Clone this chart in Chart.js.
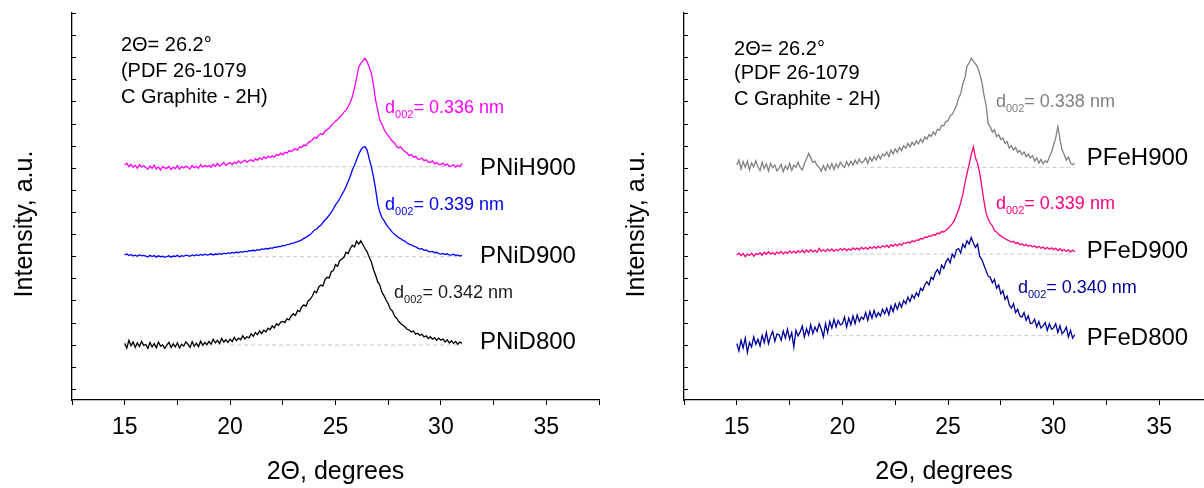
<!DOCTYPE html>
<html>
<head>
<meta charset="utf-8">
<script src="https://cdn.jsdelivr.net/npm/chart.js@4.4.0/dist/chart.umd.min.js"></script>
<style>
    html, body { margin: 0; padding: 0; background: #fff; }
    body { width: 1204px; height: 488px; position: relative; overflow: hidden; }
    .painel { position: absolute; top: 0; height: 488px; }
    #painelNi { left: 0; width: 608px; }
    #painelFe { left: 612px; width: 592px; }
</style>
</head>
<body>
<div class="painel" id="painelNi"><canvas id="graficoNi"></canvas></div>
<div class="painel" id="painelFe"><canvas id="graficoFe"></canvas></div>
<script>
// scan: 2Theta from 15 to 31 degrees, one reading every 0.1 degree
const angleStart = 15;
const angleStep = 0.1;

const pnih900 = [
    10.13, 10.21, 10.05, 10.16, 10.02, 10.11, 9.98, 10.14, 10.03, 10.09,
    10.02, 9.93, 10.08, 9.97, 10.12, 9.95, 10.04, 9.90, 10.06, 9.99,
    9.98, 10.07, 9.92, 10.03, 9.96, 10.10, 9.94, 10.05, 9.99, 10.08,
    10.02, 9.95, 10.11, 10.00, 10.07, 9.98, 10.14, 10.03, 10.10, 10.05,
    10.10, 10.02, 10.16, 10.07, 10.19, 10.08, 10.15, 10.24, 10.10, 10.20,
    10.23, 10.15, 10.26, 10.19, 10.31, 10.22, 10.28, 10.35, 10.25, 10.33,
    10.36, 10.29, 10.41, 10.34, 10.45, 10.38, 10.49, 10.42, 10.53, 10.47,
    10.54, 10.48, 10.60, 10.56, 10.66, 10.59, 10.70, 10.66, 10.78, 10.74,
    10.81, 10.86, 10.80, 10.95, 10.92, 11.03, 11.00, 11.14, 11.18, 11.26,
    11.38, 11.33, 11.47, 11.54, 11.50, 11.66, 11.72, 11.80, 11.92, 12.01,
    12.10, 12.18, 12.30, 12.38, 12.52, 12.60, 12.77, 12.95, 13.22, 13.60,
    14.05, 14.55, 14.72, 14.85, 14.95, 14.80, 14.55, 14.28, 13.75, 13.07,
    12.62, 12.16, 11.98, 11.75, 11.58, 11.45, 11.32, 11.20, 11.12, 10.96,
    10.90, 10.95, 10.80, 10.74, 10.66, 10.55, 10.60, 10.48, 10.52, 10.40,
    10.38, 10.44, 10.32, 10.36, 10.26, 10.25, 10.31, 10.18, 10.24, 10.15,
    10.15, 10.21, 10.10, 10.17, 10.06, 10.09, 10.14, 10.03, 10.11, 10.05,
    10.20
];
const pnid900 = [
    6.06, 6.10, 6.03, 6.08, 6.01, 6.05, 6.00, 6.07, 6.02, 6.04,
    6.01, 5.97, 6.04, 5.99, 6.03, 5.96, 6.02, 5.98, 6.00, 5.95,
    5.98, 6.02, 5.96, 6.01, 5.99, 6.04, 5.97, 6.03, 6.00, 6.05,
    6.03, 6.00, 6.06, 6.02, 6.07, 6.03, 6.08, 6.04, 6.09, 6.05,
    6.07, 6.11, 6.06, 6.10, 6.08, 6.13, 6.09, 6.14, 6.11, 6.15,
    6.13, 6.17, 6.14, 6.19, 6.16, 6.21, 6.18, 6.23, 6.20, 6.25,
    6.24, 6.27, 6.25, 6.30, 6.28, 6.33, 6.31, 6.35, 6.33, 6.38,
    6.36, 6.41, 6.40, 6.45, 6.44, 6.49, 6.48, 6.53, 6.54, 6.58,
    6.59, 6.63, 6.66, 6.70, 6.74, 6.81, 6.85, 6.92, 6.98, 7.08,
    7.19, 7.22, 7.33, 7.40, 7.52, 7.64, 7.73, 7.86, 7.98, 8.15,
    8.32, 8.45, 8.60, 8.78, 8.95, 9.15, 9.38, 9.62, 9.90, 10.12,
    10.36, 10.60, 10.81, 10.92, 10.96, 10.80, 10.40, 10.05, 9.60, 9.05,
    8.40, 8.00, 7.75, 7.62, 7.45, 7.32, 7.20, 7.08, 7.00, 6.92,
    6.84, 6.79, 6.72, 6.68, 6.60, 6.54, 6.52, 6.46, 6.43, 6.37,
    6.32, 6.34, 6.27, 6.29, 6.22, 6.20, 6.22, 6.16, 6.18, 6.12,
    6.10, 6.13, 6.08, 6.11, 6.05, 6.06, 6.09, 6.03, 6.06, 6.01,
    6.04
];
const pnid800 = [
    2.06, 1.85, 2.20, 1.95, 2.12, 1.88, 2.08, 1.92, 2.15, 1.97,
    2.01, 1.83, 2.10, 1.90, 2.05, 1.86, 2.12, 1.94, 1.99, 1.84,
    1.98, 2.11, 1.87, 2.04, 1.90, 2.09, 1.85, 2.02, 1.94, 2.13,
    2.02, 1.88, 2.14, 1.93, 2.07, 1.91, 2.16, 1.97, 2.10, 2.00,
    2.15, 2.02, 2.25, 2.08, 2.20, 2.05, 2.28, 2.12, 2.22, 2.10,
    2.25, 2.14, 2.33, 2.18, 2.30, 2.22, 2.40, 2.26, 2.36, 2.31,
    2.50, 2.38, 2.55, 2.45, 2.62, 2.50, 2.66, 2.58, 2.75, 2.68,
    2.85, 2.76, 2.95, 2.88, 3.02, 3.05, 3.00, 3.18, 3.12, 3.30,
    3.40, 3.32, 3.55, 3.50, 3.72, 3.80, 3.74, 3.98, 4.05, 4.20,
    4.42, 4.35, 4.60, 4.70, 4.65, 4.95, 5.05, 5.02, 5.30, 5.35,
    5.62, 5.55, 5.80, 5.88, 5.95, 6.18, 6.12, 6.35, 6.50, 6.42,
    6.68, 6.55, 6.70, 6.52, 6.35, 6.20, 5.95, 5.75, 5.40, 5.15,
    4.85, 4.70, 4.38, 4.22, 4.02, 3.85, 3.62, 3.52, 3.30, 3.20,
    3.05, 2.95, 2.88, 2.80, 2.70, 2.66, 2.58, 2.62, 2.48, 2.52,
    2.42, 2.48, 2.35, 2.40, 2.28, 2.36, 2.25, 2.32, 2.20, 2.30,
    2.20, 2.26, 2.12, 2.22, 2.08, 2.18, 2.05, 2.15, 2.02, 2.12,
    2.06
];

const pfeh900 = [
    10.13, 10.35, 9.95, 10.28, 10.02, 10.30, 9.90, 10.22, 10.05, 10.32,
    10.05, 9.88, 10.25, 9.97, 10.18, 9.85, 10.20, 10.00, 10.12, 9.86,
    9.98, 10.15, 9.82, 10.08, 9.92, 10.20, 9.88, 10.12, 10.02, 10.25,
    10.02, 9.90, 10.18, 10.40, 10.65, 10.45, 10.25, 10.30, 10.10, 10.02,
    9.85, 10.10, 9.88, 10.15, 9.95, 10.20, 9.92, 10.18, 10.00, 10.25,
    10.10, 10.02, 10.28, 10.08, 10.30, 10.12, 10.35, 10.18, 10.40, 10.22,
    10.28, 10.45, 10.20, 10.48, 10.30, 10.52, 10.36, 10.58, 10.40, 10.62,
    10.54, 10.72, 10.50, 10.80, 10.62, 10.85, 10.70, 10.92, 10.78, 11.00,
    10.88, 11.10, 10.95, 11.15, 11.02, 11.22, 11.08, 11.30, 11.15, 11.40,
    11.30, 11.50, 11.42, 11.62, 11.50, 11.75, 11.70, 11.92, 11.90, 12.10,
    12.12, 12.35, 12.42, 12.60, 12.82, 13.15, 13.35, 13.80, 14.05, 14.60,
    14.75, 14.95, 14.82, 14.70, 14.55, 14.25, 13.90, 13.30, 12.85, 12.00,
    11.85, 11.62, 11.72, 11.41, 11.50, 11.28, 11.35, 11.10, 11.18, 10.89,
    11.00, 10.80, 10.92, 10.70, 10.78, 10.60, 10.72, 10.50, 10.62, 10.45,
    10.55, 10.30, 10.45, 10.21, 10.38, 10.18, 10.32, 10.24, 10.50, 10.70,
    11.05, 11.35, 11.86, 11.30, 10.81, 10.60, 10.35, 10.48, 10.22, 10.14,
    10.20
];
const pfed900 = [
    6.06, 6.15, 6.02, 6.12, 5.98, 6.10, 6.04, 6.14, 6.00, 6.11,
    6.08, 6.16, 6.05, 6.18, 6.09, 6.20, 6.10, 6.17, 6.08, 6.19,
    6.13, 6.22, 6.10, 6.20, 6.12, 6.24, 6.15, 6.23, 6.14, 6.25,
    6.18, 6.26, 6.16, 6.28, 6.19, 6.30, 6.20, 6.27, 6.18, 6.36,
    6.22, 6.30, 6.21, 6.32, 6.24, 6.33, 6.22, 6.30, 6.26, 6.35,
    6.28, 6.36, 6.25, 6.34, 6.27, 6.38, 6.30, 6.37, 6.29, 6.40,
    6.33, 6.40, 6.31, 6.42, 6.35, 6.44, 6.36, 6.45, 6.38, 6.47,
    6.42, 6.50, 6.40, 6.52, 6.45, 6.55, 6.47, 6.56, 6.50, 6.60,
    6.58, 6.64, 6.60, 6.70, 6.66, 6.74, 6.72, 6.80, 6.78, 6.86,
    6.86, 6.92, 6.90, 6.98, 6.95, 7.05, 7.02, 7.12, 7.10, 7.18,
    7.25, 7.35, 7.48, 7.62, 7.85, 8.10, 8.42, 8.80, 9.30, 9.75,
    10.15, 10.60, 10.95, 10.45, 10.20, 9.77, 9.15, 8.50, 7.96, 7.68,
    7.50, 7.38, 7.15, 7.10, 6.98, 6.92, 6.85, 6.80, 6.74, 6.70,
    6.64, 6.68, 6.58, 6.62, 6.52, 6.56, 6.48, 6.53, 6.45, 6.50,
    6.43, 6.47, 6.38, 6.45, 6.36, 6.42, 6.33, 6.40, 6.32, 6.38,
    6.30, 6.36, 6.26, 6.34, 6.24, 6.30, 6.22, 6.29, 6.20, 6.27,
    6.20
];
const pfed800 = [
    2.05, 1.72, 2.20, 1.85, 2.30, 1.65, 2.10, 1.90, 2.35, 2.02,
    2.25, 1.95, 2.42, 2.10, 2.55, 2.05, 2.38, 2.60, 2.15, 2.48,
    2.45, 2.20, 2.62, 2.30, 2.70, 2.25, 2.55, 1.90, 2.65, 2.40,
    2.58, 2.85, 2.35, 2.72, 2.45, 2.90, 2.50, 2.80, 2.60, 2.95,
    2.70, 2.35, 2.95, 2.55, 3.05, 2.75, 3.15, 2.80, 3.10, 2.90,
    2.95, 3.25, 2.80, 3.20, 2.90, 3.30, 2.95, 3.35, 3.05, 3.25,
    3.15, 3.45, 3.10, 3.50, 3.20, 3.55, 3.25, 3.45, 3.30, 3.60,
    3.40, 3.65, 3.35, 3.75, 3.50, 3.85, 3.60, 3.90, 3.70, 4.00,
    3.85, 4.15, 3.95, 4.25, 4.10, 4.35, 4.20, 4.55, 4.45, 4.70,
    4.85, 4.70, 5.05, 4.95, 5.25, 5.40, 5.20, 5.60, 5.45, 5.75,
    5.90, 5.70, 6.10, 5.95, 6.30, 6.35, 6.15, 6.55, 6.40, 6.70,
    6.55, 6.85, 6.60, 6.40, 6.55, 6.00, 5.85, 5.60, 5.35, 5.10,
    5.05, 4.80, 4.95, 4.55, 4.70, 4.30, 4.45, 4.05, 4.20, 3.80,
    3.65, 3.85, 3.45, 3.60, 3.30, 3.25, 3.45, 3.10, 3.30, 2.95,
    2.98, 3.15, 2.80, 3.05, 2.75, 2.85, 3.00, 2.65, 2.95, 2.70,
    2.76, 2.95, 2.55, 2.85, 2.50, 2.60, 2.80, 2.35, 2.65, 2.30,
    2.45
];

// dashed background levels under each pattern
const baselineNi = [10.05, 5.98, 1.99];
const baselineFromNi = [20, 20, 20];
const baselineFe = [10.02, 6.10, 2.41];
const baselineFromFe = [21, 20, 19];
const baselineTo = 31;

const samplesNi = ['PNiH900', 'PNiD900', 'PNiD800'];
const samplesFe = ['PFeH900', 'PFeD900', 'PFeD800'];
const spacingNi = ['0.336 nm', '0.339 nm', '0.342 nm'];
const spacingFe = ['0.338 nm', '0.339 nm', '0.340 nm'];
const refLines = ['2\u0398= 26.2\u00b0', '(PDF 26-1079', 'C Graphite - 2H)'];

const FONT = '"Liberation Sans", Arial, sans-serif';

function toPoints(values) {
    return values.map((v, i) => ({ x: +(angleStart + i * angleStep).toFixed(2), y: v }));
}

// writes the sample names, d002 labels, reference note, y title and inner y ticks
const panelText = {
    id: 'panelText',
    afterDraw(chart, args, opts) {
        const ctx = chart.ctx;
        const x = chart.scales.x;
        const y = chart.scales.y;
        const area = chart.chartArea;
        ctx.save();

        ctx.strokeStyle = '#000';
        ctx.lineWidth = 1;
        y.ticks.forEach(t => {
            const py = Math.round(y.getPixelForValue(t.value)) + 0.5;
            ctx.beginPath();
            ctx.moveTo(area.left, py);
            ctx.lineTo(area.left + 4, py);
            ctx.stroke();
        });

        ctx.textBaseline = 'middle';
        ctx.textAlign = 'left';
        ctx.fillStyle = '#000';

        ctx.font = '20px ' + FONT;
        refLines.forEach((line, i) => {
            ctx.fillText(line, x.getPixelForValue(opts.refX), y.getPixelForValue(opts.refY[i]));
        });

        ctx.font = '24px ' + FONT;
        opts.names.forEach((name, i) => {
            ctx.fillText(name, x.getPixelForValue(opts.nameX), y.getPixelForValue(opts.nameY[i]));
        });

        opts.spacing.forEach((txt, i) => {
            let px = x.getPixelForValue(opts.dX[i]);
            const py = y.getPixelForValue(opts.dY[i]);
            ctx.fillStyle = opts.textColors[i];
            ctx.font = '18px ' + FONT;
            ctx.fillText('d', px, py);
            px += ctx.measureText('d').width;
            ctx.font = '11px ' + FONT;
            ctx.fillText('002', px, py + 7);
            px += ctx.measureText('002').width;
            ctx.font = '18px ' + FONT;
            ctx.fillText('= ' + txt, px, py);
        });

        ctx.fillStyle = '#000';
        ctx.font = '25px ' + FONT;
        ctx.textAlign = 'center';
        ctx.translate(area.left - 47, 224);
        ctx.rotate(-Math.PI / 2);
        ctx.fillText('Intensity, a.u.', 0, 0);
        ctx.restore();
    }
};

function makePanel(canvasId, series, levels, levelsFrom, colors, xMax, text) {
    const datasets = series.map((s, i) => ({
        data: toPoints(s),
        borderColor: colors[i],
        borderWidth: 1.3,
        pointRadius: 0,
        tension: 0,
        fill: false
    }));
    levels.forEach((lv, i) => {
        datasets.push({
            data: [{ x: levelsFrom[i], y: lv }, { x: baselineTo, y: lv }],
            borderColor: '#c8c8c8',
            borderWidth: 1,
            borderDash: [4, 3],
            pointRadius: 0,
            fill: false
        });
    });

    new Chart(document.getElementById(canvasId), {
        type: 'line',
        data: { datasets: datasets },
        plugins: [panelText],
        options: {
            responsive: true,
            maintainAspectRatio: false,
            animation: false,
            events: [],
            layout: { padding: { top: 13, right: 0, left: 0, bottom: 0 } },
            plugins: {
                legend: { display: false },
                tooltip: { enabled: false },
                panelText: text
            },
            scales: {
                x: {
                    type: 'linear',
                    min: 12.5,
                    max: xMax,
                    afterFit: function(scale) { scale.height = 88; },
                    border: { display: true, color: '#000', width: 1.3 },
                    grid: {
                        drawOnChartArea: false,
                        drawTicks: true,
                        tickLength: 5,
                        color: '#000'
                    },
                    ticks: {
                        stepSize: 2.5,
                        includeBounds: false,
                        autoSkip: false,
                        maxRotation: 0,
                        padding: 9,
                        color: '#000',
                        font: { family: FONT, size: 23 },
                        callback: function(v) { return v % 5 === 0 ? v : ''; }
                    },
                    title: {
                        display: true,
                        text: '2\u0398, degrees',
                        color: '#000',
                        font: { family: FONT, size: 25 },
                        padding: { top: 0, bottom: 1 }
                    }
                },
                y: {
                    type: 'linear',
                    min: -0.5,
                    max: 17,
                    afterFit: function(scale) { scale.width = 72; },
                    border: { display: true, color: '#000', width: 1.3 },
                    grid: { display: false },
                    ticks: { display: false, stepSize: 1, includeBounds: false }
                }
            }
        }
    });
}

makePanel('graficoNi', [pnih900, pnid900, pnid800], baselineNi, baselineFromNi,
    ['#ff00ff', '#0000ff', '#000000'], 37.5, {
        names: samplesNi,
        nameX: 31.85,
        nameY: [9.98, 5.98, 2.09],
        spacing: spacingNi,
        dX: [27.35, 27.35, 27.78],
        dY: [12.71, 8.32, 4.33],
        textColors: ['#ff00ff', '#0000ff', '#1a1a1a'],
        refX: 14.82,
        refY: [15.52, 14.35, 13.19]
    });

makePanel('graficoFe', [pfeh900, pfed900, pfed800], baselineFe, baselineFromFe,
    ['#808080', '#ff0080', '#000096'], 37.12, {
        names: samplesFe,
        nameX: 31.57,
        nameY: [10.43, 6.21, 2.29],
        spacing: spacingFe,
        dX: [27.27, 27.27, 28.31],
        dY: [12.99, 8.36, 4.55],
        textColors: ['#808080', '#ff0080', '#000096'],
        refX: 14.87,
        refY: [15.33, 14.25, 13.10]
    });
</script>
</body>
</html>
